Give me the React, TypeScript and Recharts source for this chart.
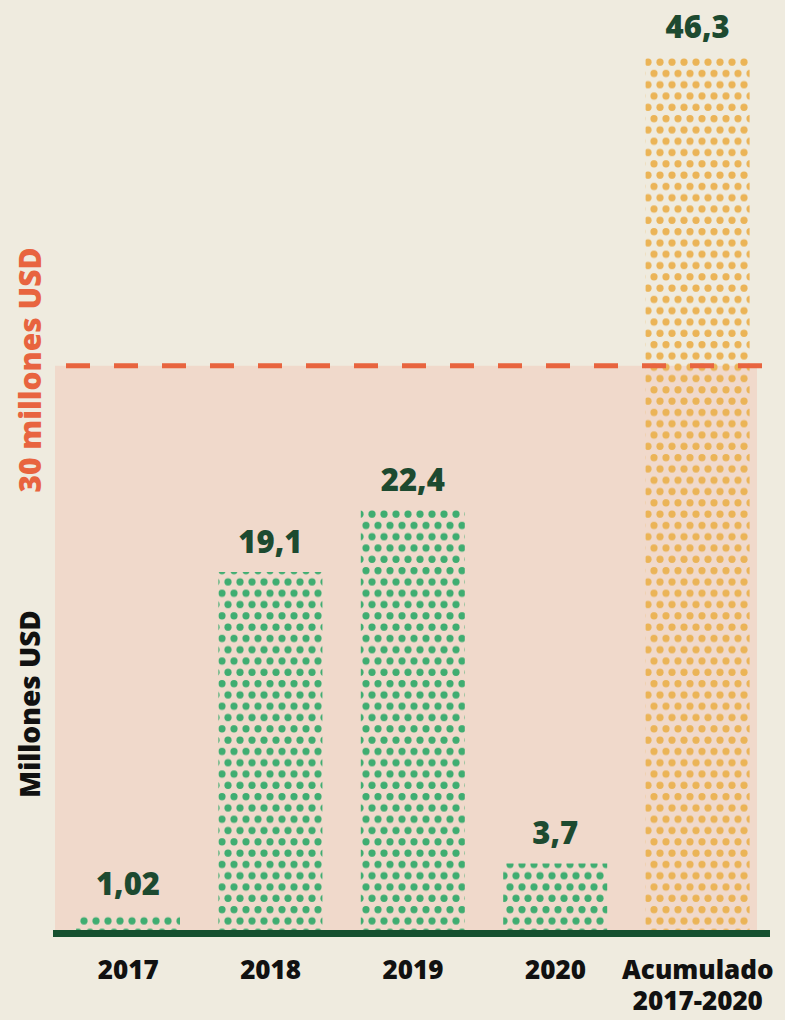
import { BarChart, Bar, XAxis, YAxis, Cell, LabelList, ReferenceArea, ReferenceLine } from 'recharts'

const categories = ['2017', '2018', '2019', '2020', 'Acumulado\n2017-2020']
const values = [1.02, 19.1, 22.4, 3.7, 46.3]
const cumulative = [false, false, false, false, true]
const threshold = 30
const thresholdLabel = '30 millones USD'
const axisTitle = 'Millones USD'

const FONT = '"Open Sans", sans-serif'
const BG = '#efebdf'

const data = categories.map((name, i) => ({ name, value: values[i], total: cumulative[i] }))

const CategoryTick = ({ x, y, payload }: any) => {
  const lines = String(payload.value).split('\n')
  return (
    <text x={x} y={y} textAnchor="middle" fill="#111" fontFamily={FONT} fontWeight={800} fontSize={26}>
      {lines.map((l, i) => (
        <tspan key={i} x={x} dy={i === 0 ? 37.5 : 31}>{l}</tspan>
      ))}
    </text>
  )
}

const sideText = (text: string, top: number, color: string, size: number) => (
  <div
    style={{
      position: 'absolute',
      left: 29,
      top,
      transform: 'translate(-50%, -50%) rotate(-90deg)',
      whiteSpace: 'nowrap',
      fontFamily: FONT,
      fontWeight: 800,
      fontSize: size,
      color,
    }}
  >
    {text}
  </div>
)

export default function App() {
  return (
    <div style={{ position: 'absolute', left: 0, top: 0, width: 785, height: 1020, background: BG }}>
      <BarChart width={785} height={1020} data={data} margin={{ top: 25, right: 15, left: 53, bottom: 0 }}>
        <defs>
          <pattern id="dotsGreen" width={12} height={22.6} patternUnits="userSpaceOnUse">
            <circle cx={6} cy={5.65} r={3.6} fill="#3fad71" />
            <circle cx={0} cy={16.95} r={3.6} fill="#3fad71" />
            <circle cx={12} cy={16.95} r={3.6} fill="#3fad71" />
          </pattern>
          <pattern id="dotsOrange" width={12} height={22.6} patternUnits="userSpaceOnUse">
            <circle cx={6} cy={5.65} r={3.6} fill="#ebb457" />
            <circle cx={0} cy={16.95} r={3.6} fill="#ebb457" />
            <circle cx={12} cy={16.95} r={3.6} fill="#ebb457" />
          </pattern>
        </defs>
        {/* hidden axis that only sets the width of the shaded band and the dashed line */}
        <XAxis xAxisId="band" dataKey="name" hide padding={{ left: 2, right: 13 }} />
        <ReferenceArea xAxisId="band" y1={0} y2={threshold} fill="#f0d9cb" fillOpacity={1} stroke="none" />
        <XAxis
          dataKey="name"
          height={86.5}
          interval={0}
          tickLine={false}
          axisLine={{ stroke: '#16502f', strokeWidth: 7 }}
          padding={{ left: 4, right: 1 }}
          tick={<CategoryTick />}
        />
        <YAxis hide domain={[0, 48]} />
        <Bar dataKey="value" barSize={104} isAnimationActive={false}>
          {data.map((d, i) => (
            <Cell key={i} fill={d.total ? 'url(#dotsOrange)' : 'url(#dotsGreen)'} />
          ))}
          <LabelList
            dataKey="value"
            position="top"
            offset={19}
            formatter={(v: any) => String(v).replace('.', ',')}
            fill="#1d4a30"
            fontFamily={FONT}
            fontWeight={800}
            fontSize={31}
          />
        </Bar>
        <ReferenceLine
          xAxisId="band"
          y={threshold}
          stroke="#e8643f"
          strokeWidth={5}
          strokeDasharray="24 24"
          strokeDashoffset={35}
        />
      </BarChart>
      {sideText(thresholdLabel, 370, '#e8643f', 30)}
      {sideText(axisTitle, 704, '#111', 28)}
    </div>
  )
}
